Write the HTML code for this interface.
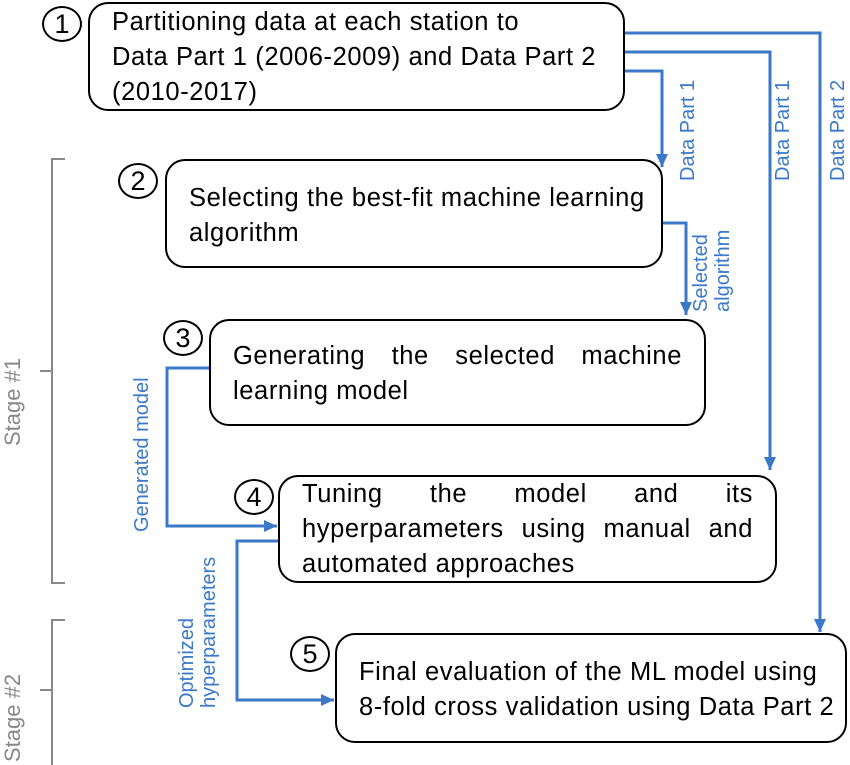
<!DOCTYPE html>
<html><head><meta charset="utf-8"><style>
body{margin:0;width:850px;height:765px;background:#fff;position:relative;overflow:hidden;font-family:"Liberation Sans",sans-serif}
.b{position:absolute;border:2px solid #000;border-radius:20px;box-sizing:border-box;font-size:25.5px;letter-spacing:0.6px;line-height:35px;color:#000;padding:0 22px;white-space:nowrap}
.b div{white-space:nowrap}
.jl{text-align:justify;text-align-last:justify}
.c{position:absolute;width:40px;height:36px;border:2px solid #000;border-radius:50%;box-sizing:border-box;font-size:27px;text-align:center;line-height:33px;background:#fff}
.l{position:absolute;color:#3a78c8;font-size:20px;line-height:22px;transform:rotate(-90deg);transform-origin:0 0;white-space:nowrap}
.s{position:absolute;color:#888;font-size:22px;transform:rotate(-90deg);transform-origin:0 0;white-space:nowrap}
</style></head><body>
<svg width="850" height="765" style="position:absolute;left:0;top:0">
<defs><marker id="m" markerWidth="14" markerHeight="14" refX="13" refY="6" orient="auto" markerUnits="userSpaceOnUse"><path d="M0,0 L13,6 L0,12z" fill="#3a78c8"/></marker></defs>
<g fill="none" stroke="#3a78c8" stroke-width="3">
<polyline points="623,33 820,33 820,632" marker-end="url(#m)"/>
<polyline points="623,52 770,52 770,470" marker-end="url(#m)"/>
<polyline points="623,71 662,71 662,167" marker-end="url(#m)"/>
<polyline points="662,223 686,223 686,315" marker-end="url(#m)"/>
<polyline points="209,368 167,368 167,526 277,526" marker-end="url(#m)"/>
<polyline points="278,541 237,541 237,700 334,700" marker-end="url(#m)"/>
</g>
<g fill="none" stroke="#888" stroke-width="2">
<polyline points="65,159 52,159 52,583 65,583"/><line x1="40" y1="371" x2="52" y2="371"/>
<polyline points="65,620 52,620 52,765"/><line x1="40" y1="690" x2="52" y2="690"/>
</g>
</svg>
<div class="b" style="left:88px;top:2px;width:537px;height:109px;padding-top:1px"><div>Partitioning data at each station to</div><div>Data Part 1 (2006-2009) and Data Part 2</div><div>(2010-2017)</div></div>
<div class="b" style="left:165px;top:159px;width:498px;height:109px;padding-top:20px"><div>Selecting the best-fit machine learning</div><div>algorithm</div></div>
<div class="b" style="left:209px;top:319px;width:497px;height:107px;padding-top:18px"><div class="jl">Generating the selected machine</div><div>learning model</div></div>
<div class="b" style="left:278px;top:475px;width:499px;height:108px;padding-top:0px"><div class="jl">Tuning the model and its</div><div class="jl">hyperparameters using manual and</div><div>automated approaches</div></div>
<div class="b" style="left:335px;top:633px;width:512px;height:110px;padding-top:20px"><div>Final evaluation of the ML model using</div><div>8-fold cross validation using Data Part 2</div></div>
<div class="c" style="left:42px;top:6px">1</div>
<div class="c" style="left:118px;top:163px">2</div>
<div class="c" style="left:163px;top:320px">3</div>
<div class="c" style="left:234px;top:479px">4</div>
<div class="c" style="left:290px;top:636px">5</div>
<div class="l" style="left:677px;top:181px">Data Part 1</div>
<div class="l" style="left:772px;top:181px">Data Part 1</div>
<div class="l" style="left:827px;top:181px">Data Part 2</div>
<div class="l" style="left:690px;top:312px">Selected<br>algorithm</div>
<div class="l" style="left:131px;top:532px">Generated model</div>
<div class="l" style="left:176px;top:708px">Optimized<br>hyperparameters</div>
<div class="s" style="left:0px;top:446px">Stage #1</div>
<div class="s" style="left:0px;top:762px">Stage #2</div>
</body></html>
